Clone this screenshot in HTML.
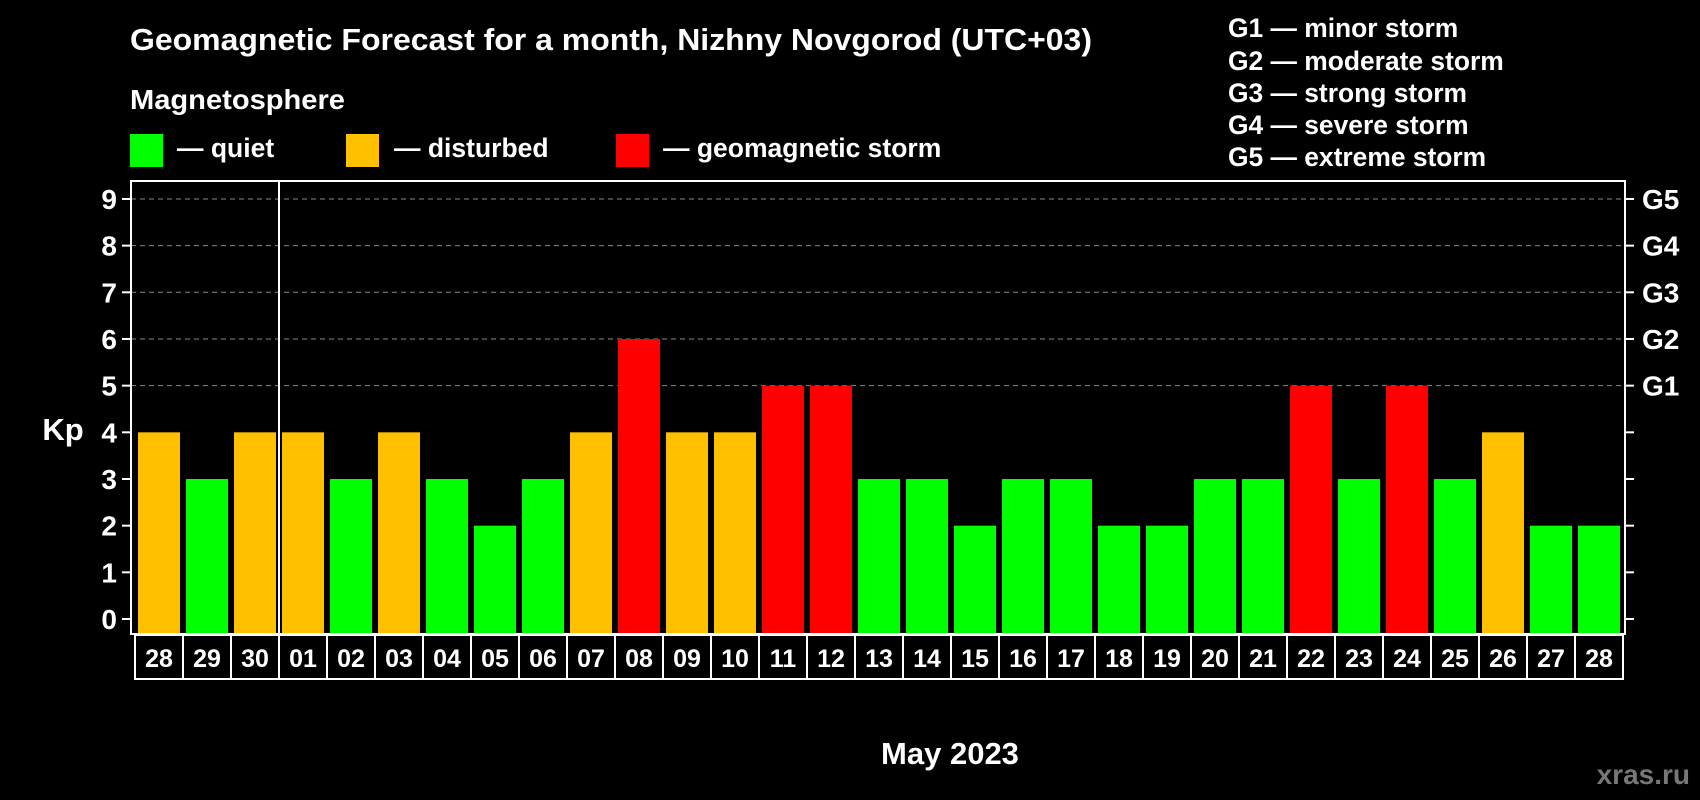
<!DOCTYPE html>
<html><head><meta charset="utf-8"><style>
html,body{margin:0;padding:0;background:#000;}
svg{display:block;font-family:"Liberation Sans",Arial,sans-serif;font-weight:bold;}
</style></head><body>
<svg id="chart" width="1700" height="800" viewBox="0 0 1700 800">
<rect width="1700" height="800" fill="#000"/>
<text x="130" y="50" fill="#fff" font-size="31" textLength="962" lengthAdjust="spacingAndGlyphs">Geomagnetic Forecast for a month, Nizhny Novgorod (UTC+03)</text>
<text x="130" y="109" fill="#fff" font-size="28" textLength="215" lengthAdjust="spacingAndGlyphs">Magnetosphere</text>
<g><rect x="130" y="134" width="33" height="33" fill="#00ff00"/><text x="177" y="157" fill="#fff" font-size="26.5">— quiet</text></g>
<g><rect x="346" y="134" width="33" height="33" fill="#ffc000"/><text x="394" y="157" fill="#fff" font-size="26.5">— disturbed</text></g>
<g><rect x="616" y="134" width="33" height="33" fill="#ff0000"/><text x="663" y="157" fill="#fff" font-size="26.5">— geomagnetic storm</text></g>
<g fill="#fff" font-size="26.4">
<text x="1228" y="37">G1 — minor storm</text>
<text x="1228" y="70">G2 — moderate storm</text>
<text x="1228" y="102">G3 — strong storm</text>
<text x="1228" y="134">G4 — severe storm</text>
<text x="1228" y="166">G5 — extreme storm</text>
</g>
<g id="grid"></g><g id="bars"></g><g id="axes"></g>
<text x="63" y="440" fill="#fff" font-size="31" text-anchor="middle">Kp</text>
<text x="950" y="764" fill="#fff" font-size="31" text-anchor="middle">May 2023</text>
<text x="1690" y="784" fill="#777" font-size="28" text-anchor="end">xras.ru</text>
</svg>
<script>
const days=["28","29","30","01","02","03","04","05","06","07","08","09","10","11","12","13","14","15","16","17","18","19","20","21","22","23","24","25","26","27","28"];
const kp=[4,3,4,4,3,4,3,2,3,4,6,4,4,5,5,3,3,2,3,3,2,2,3,3,5,3,5,3,4,2,2];
const yTicks=[0,1,2,3,4,5,6,7,8,9];
const gLabels=["G1","G2","G3","G4","G5"];
(function(){
const NS="http://www.w3.org/2000/svg";
const x0=135,slot=48,yBase=619,unit=46.67,pTop=181,pBottom=634,pLeft=131,pRight=1625;
const X=i=>x0+i*slot, Y=v=>yBase-v*unit;
function mk(tag,attrs,parent){const e=document.createElementNS(NS,tag);for(const k in attrs)e.setAttribute(k,attrs[k]);parent.appendChild(e);return e;}
const grid=document.getElementById('grid'),bars=document.getElementById('bars'),axes=document.getElementById('axes');
yTicks.forEach(v=>{
 if(v>=5){const l=mk('line',{x1:pLeft,x2:pRight,y1:Y(v),y2:Y(v),stroke:'#888','stroke-dasharray':'5,4','stroke-width':1},grid);
 
 }
 const t=mk('line',{x1:pLeft-9,x2:pLeft,y1:Y(v),y2:Y(v),stroke:'#fff','stroke-width':2},axes);
 
 
 const t2=mk('line',{x1:pRight,x2:pRight+9,y1:Y(v),y2:Y(v),stroke:'#fff','stroke-width':2},axes);
 
 
 const lb=mk('text',{x:pLeft-14,y:Y(v)+10,fill:'#fff','font-size':28,'text-anchor':'end'},axes);lb.textContent=v;
 
 
});
gLabels.forEach((g,i)=>{const lb=mk('text',{x:pRight+17,y:Y(5+i)+10,fill:'#fff','font-size':28},axes);lb.textContent=g;
 
 });
kp.forEach((v,i)=>{
 const c=v>=5?'#ff0000':(v>=4?'#ffc000':'#00ff00');
 const r=mk('rect',{x:X(i)+3,y:Y(v),width:42,height:pBottom-Y(v),fill:c},bars);
 
 
 const b=mk('rect',{x:X(i),y:635,width:slot,height:44,fill:'none',stroke:'#fff','stroke-width':2},axes);
 
 
 const t=mk('text',{x:X(i)+slot/2,y:667,fill:'#fff','font-size':25,'text-anchor':'middle'},axes);t.textContent=days[i];
 
 
});
const fr=mk('rect',{x:pLeft,y:pTop,width:pRight-pLeft,height:pBottom-pTop,fill:'none',stroke:'#fff','stroke-width':2},axes);


const sep=mk('line',{x1:X(3),x2:X(3),y1:pTop,y2:pBottom,stroke:'#fff','stroke-width':2},axes);


})();
</script>
</body></html>
